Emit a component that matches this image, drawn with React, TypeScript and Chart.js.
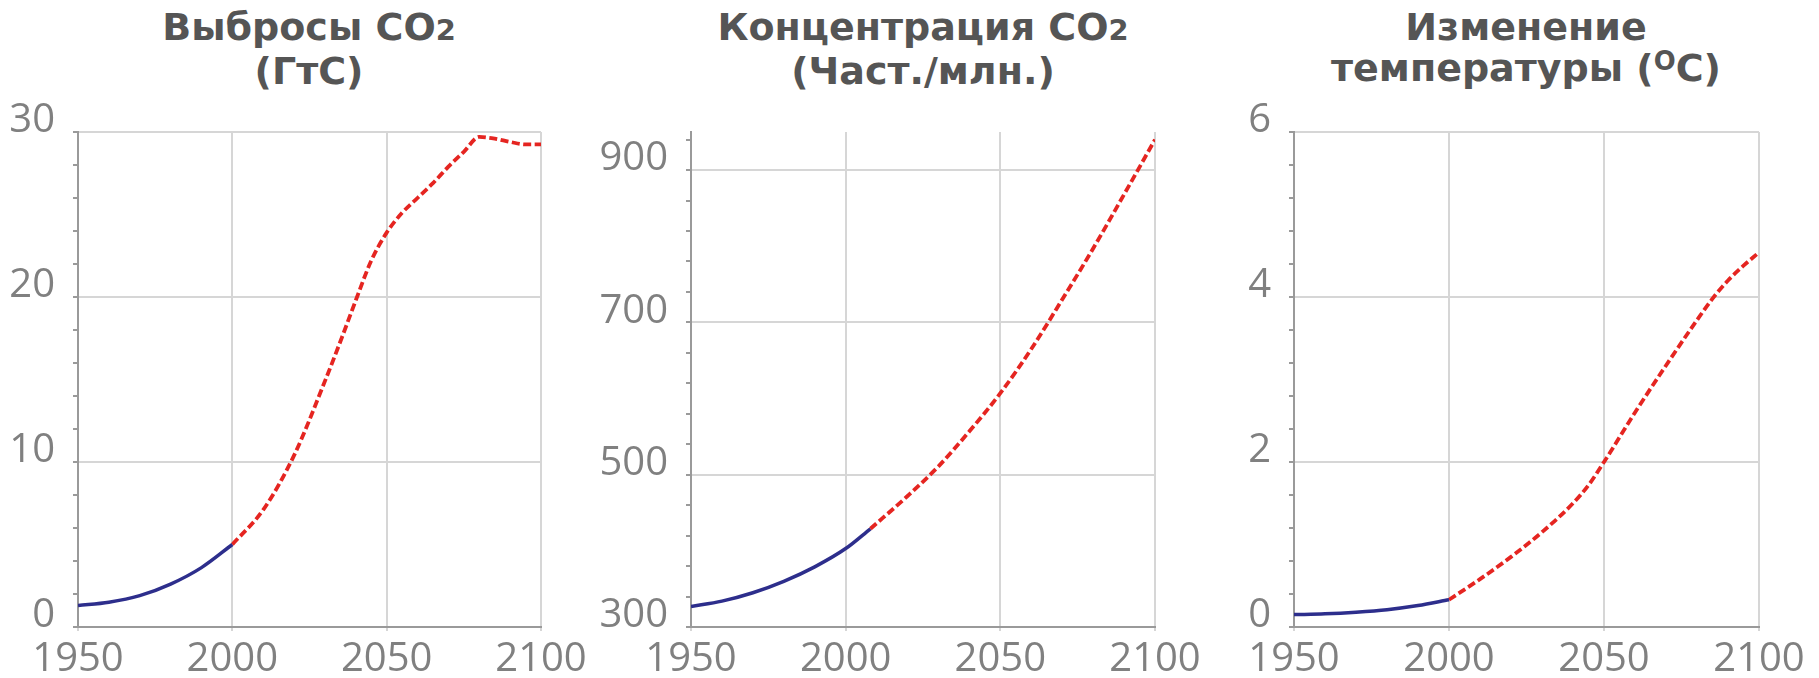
import React, { useEffect, useRef } from "react";
import Chart from "chart.js/auto";

// ---- data ----
const yearTicks = [1950, 2000, 2050, 2100];

// CO2 emissions, GtC
const emissionHistYears = [1950, 1960, 1970, 1980, 1990, 2000];
const emissionHist = [1.3, 1.5, 1.9, 2.6, 3.6, 5.0];
const emissionProjYears = [2000, 2010, 2020, 2030, 2035, 2040, 2045, 2050, 2055, 2060, 2065, 2070, 2075, 2080, 2085, 2090, 2095, 2100];
const emissionProj = [5.0, 7.1, 10.4, 14.9, 17.3, 19.8, 22.2, 23.9, 25.1, 26.0, 26.9, 27.9, 28.8, 29.7, 29.6, 29.4, 29.25, 29.25];
const emissionLabels = [0, 10, 20, 30];
const emissionMinor = Array.from({ length: 16 }, (_, i) => i * 2);

// CO2 concentration, ppm
const concHistYears = [1950, 1960, 1970, 1980, 1990, 2000, 2008];
const concHist = [327, 334, 345, 360, 379, 403, 429];
const concProjYears = [2008, 2020, 2030, 2040, 2050, 2060, 2070, 2080, 2090, 2100];
const concProj = [429, 472, 511, 557, 607, 665, 730, 797, 868, 940];
const concLabels = [300, 500, 700, 900];
const concMinor = Array.from({ length: 17 }, (_, i) => 300 + i * 40);

// Temperature change, °C
const tempHistYears = [1950, 1960, 1970, 1980, 1990, 2000];
const tempHist = [0.15, 0.16, 0.18, 0.21, 0.26, 0.33];
const tempProjYears = [2000, 2010, 2020, 2030, 2040, 2045, 2050, 2060, 2070, 2080, 2085, 2090, 2095, 2100];
const tempProj = [0.33, 0.58, 0.85, 1.15, 1.5, 1.72, 2.0, 2.6, 3.17, 3.72, 3.98, 4.2, 4.38, 4.54];
const tempLabels = [0, 2, 4, 6];
const tempMinor = Array.from({ length: 16 }, (_, i) => (i * 4) / 10);

// ---- styling ----
const TICK_FONT = '"Open Sans", sans-serif';
const TICK_COLOR = "#808080";
const GRID_COLOR = "#d6d6d6";
const AXIS_COLOR = "#9a9a9a";
const HIST_COLOR = "#2d2e8c";
const PROJ_COLOR = "#e52521";
const CANVAS_TOP = 100;
const CANVAS_HEIGHT = 578;

type Panel = {
  left: number;
  width: number;
  axisWidth: number;
  rightPad: number;
  histX: number[];
  histY: number[];
  projX: number[];
  projY: number[];
  yMin: number;
  yMax: number;
  yMinor: number[];
  yMajor: number[];
};

const near = (list: number[], v: number) => list.some((m) => Math.abs(m - v) < 1e-6);

function toPoints(xs: number[], ys: number[]) {
  return xs.map((x, i) => ({ x, y: ys[i] }));
}

function PanelChart({ panel }: { panel: Panel }) {
  const ref = useRef<HTMLCanvasElement | null>(null);

  useEffect(() => {
    if (!ref.current) return;
    const chart = new Chart(ref.current, {
      type: "line",
      data: {
        datasets: [
          {
            data: toPoints(panel.histX, panel.histY),
            borderColor: HIST_COLOR,
            borderWidth: 3.5,
            pointRadius: 0,
            cubicInterpolationMode: "monotone",
            fill: false,
          },
          {
            data: toPoints(panel.projX, panel.projY),
            borderColor: PROJ_COLOR,
            borderWidth: 3.8,
            borderDash: [8, 3.5],
            pointRadius: 0,
            cubicInterpolationMode: "monotone",
            fill: false,
          },
        ],
      },
      options: {
        responsive: false,
        animation: false,
        devicePixelRatio: 1,
        layout: { padding: { top: 32, right: panel.rightPad, left: 0, bottom: 0 } },
        plugins: { legend: { display: false }, tooltip: { enabled: false }, title: { display: false } },
        scales: {
          x: {
            type: "linear",
            min: 1950,
            max: 2100,
            afterBuildTicks: (scale: any) => {
              scale.ticks = yearTicks.map((v) => ({ value: v }));
            },
            afterFit: (scale: any) => {
              scale.height = 51;
              scale.paddingLeft = 0;
              scale.paddingRight = 0;
            },
            ticks: {
              autoSkip: false,
              maxRotation: 0,
              padding: 5,
              color: TICK_COLOR,
              font: { family: TICK_FONT, size: 40 },
              callback: (v: any) => String(v),
            },
            grid: { color: GRID_COLOR, lineWidth: 2, tickLength: 4, tickColor: GRID_COLOR },
            border: { color: AXIS_COLOR, width: 2 },
          },
          y: {
            type: "linear",
            min: panel.yMin,
            max: panel.yMax,
            afterBuildTicks: (scale: any) => {
              scale.ticks = panel.yMinor.map((v) => ({ value: v }));
            },
            afterFit: (scale: any) => {
              scale.width = panel.axisWidth;
              scale.paddingTop = 0;
              scale.paddingBottom = 0;
            },
            ticks: {
              autoSkip: false,
              padding: 18,
              labelOffset: -11,
              color: TICK_COLOR,
              font: { family: TICK_FONT, size: 40 },
              callback: (v: any) => (near(panel.yMajor, Number(v)) ? String(Math.round(Number(v))) : ""),
            },
            grid: {
              lineWidth: 2,
              tickLength: 5,
              color: (ctx: any) =>
                ctx.tick && near(panel.yMajor, ctx.tick.value) ? GRID_COLOR : "rgba(0,0,0,0)",
              tickColor: AXIS_COLOR,
            },
            border: { color: AXIS_COLOR, width: 2 },
          },
        },
      },
    } as any);
    return () => chart.destroy();
  }, [panel]);

  return (
    <canvas
      ref={ref}
      width={panel.width}
      height={CANVAS_HEIGHT}
      style={{ position: "absolute", left: panel.left, top: CANVAS_TOP, width: panel.width, height: CANVAS_HEIGHT }}
    />
  );
}

const panels: Panel[] = [
  {
    left: 0, width: 590, axisWidth: 78, rightPad: 49,
    histX: emissionHistYears, histY: emissionHist, projX: emissionProjYears, projY: emissionProj,
    yMin: 0, yMax: 30, yMinor: emissionMinor, yMajor: emissionLabels,
  },
  {
    left: 590, width: 615, axisWidth: 101, rightPad: 50,
    histX: concHistYears, histY: concHist, projX: concProjYears, projY: concProj,
    yMin: 300, yMax: 950, yMinor: concMinor, yMajor: concLabels,
  },
  {
    left: 1205, width: 614, axisWidth: 89, rightPad: 60,
    histX: tempHistYears, histY: tempHist, projX: tempProjYears, projY: tempProj,
    yMin: 0, yMax: 6, yMinor: tempMinor, yMajor: tempLabels,
  },
];

const titleStyle = (cx: number): React.CSSProperties => ({
  position: "absolute",
  left: cx - 300,
  top: 7,
  width: 600,
  textAlign: "center",
  fontFamily: '"DejaVu Sans", sans-serif',
  fontWeight: 700,
  fontSize: 38,
  lineHeight: "41px",
  color: "#555555",
  whiteSpace: "nowrap",
});

const small2 = <span style={{ fontSize: "0.76em" }}>2</span>;

export default function App() {
  useEffect(() => {
    document.body.style.margin = "0";
    document.body.style.overflow = "hidden";
  }, []);

  return (
    <div style={{ position: "absolute", left: 0, top: 0, width: 1819, height: 678, background: "#ffffff", overflow: "hidden" }}>
      <div style={titleStyle(309)}>
        <div>Выбросы CO{small2}</div>
        <div>(ГтС)</div>
      </div>
      <div style={titleStyle(923)}>
        <div>Концентрация CO{small2}</div>
        <div>(Част./млн.)</div>
      </div>
      <div style={titleStyle(1526)}>
        <div>Изменение</div>
        <div>
          температуры (
          <span style={{ fontSize: "0.68em", verticalAlign: "11px", lineHeight: 0 }}>O</span>C)
        </div>
      </div>
      {panels.map((p, i) => (
        <PanelChart key={i} panel={p} />
      ))}
    </div>
  );
}
